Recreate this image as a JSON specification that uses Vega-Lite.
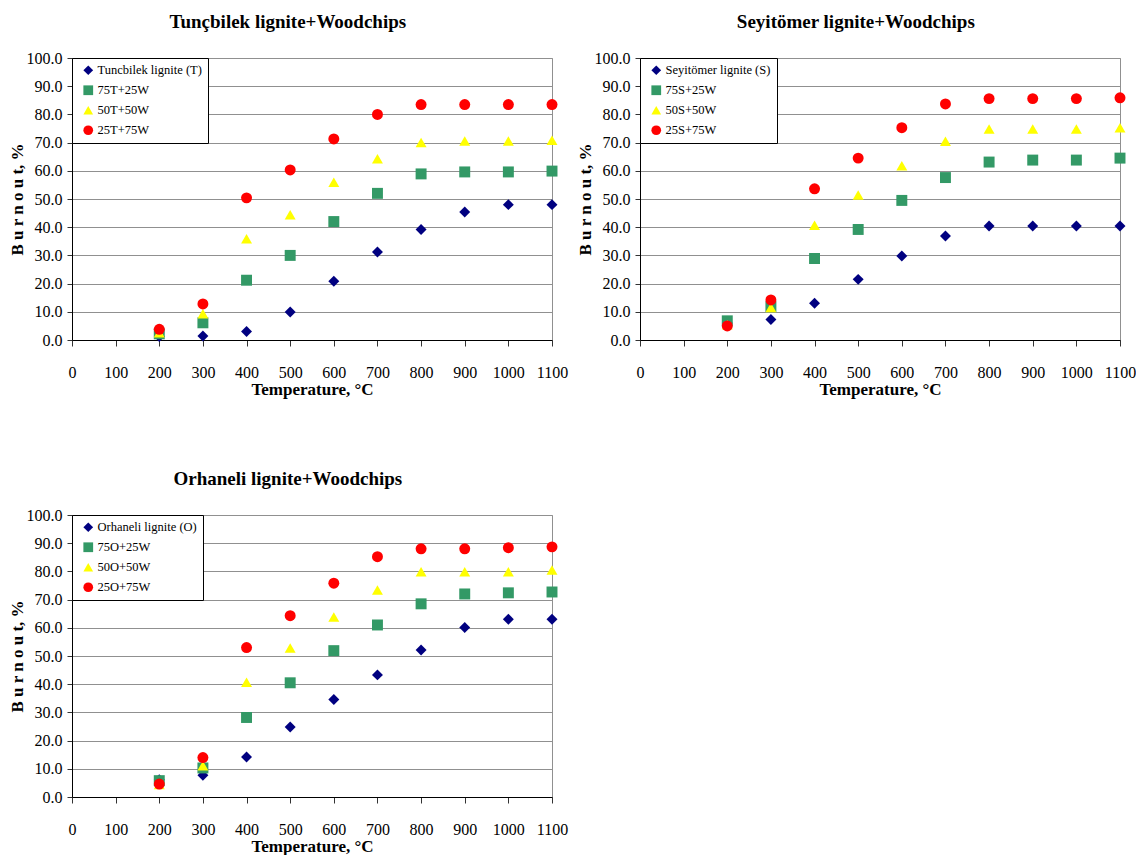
{
  "$schema": "https://vega.github.io/schema/vega-lite/v6.json",
  "background": "white",
  "padding": {"left": 7, "top": 12, "right": 0, "bottom": 0},
  "data": {"values": [
    {"p":"T","s":"Tuncbilek lignite (T)","t":200,"b":1.2},
    {"p":"T","s":"Tuncbilek lignite (T)","t":300,"b":1.4},
    {"p":"T","s":"Tuncbilek lignite (T)","t":400,"b":3.0},
    {"p":"T","s":"Tuncbilek lignite (T)","t":500,"b":9.9},
    {"p":"T","s":"Tuncbilek lignite (T)","t":600,"b":20.8},
    {"p":"T","s":"Tuncbilek lignite (T)","t":700,"b":31.2},
    {"p":"T","s":"Tuncbilek lignite (T)","t":800,"b":39.2},
    {"p":"T","s":"Tuncbilek lignite (T)","t":900,"b":45.4},
    {"p":"T","s":"Tuncbilek lignite (T)","t":1000,"b":48.0},
    {"p":"T","s":"Tuncbilek lignite (T)","t":1100,"b":48.0},
    {"p":"T","s":"75T+25W","t":200,"b":2.2},
    {"p":"T","s":"75T+25W","t":300,"b":6.1},
    {"p":"T","s":"75T+25W","t":400,"b":21.2},
    {"p":"T","s":"75T+25W","t":500,"b":30.0},
    {"p":"T","s":"75T+25W","t":600,"b":42.0},
    {"p":"T","s":"75T+25W","t":700,"b":52.0},
    {"p":"T","s":"75T+25W","t":800,"b":58.9},
    {"p":"T","s":"75T+25W","t":900,"b":59.6},
    {"p":"T","s":"75T+25W","t":1000,"b":59.6},
    {"p":"T","s":"75T+25W","t":1100,"b":59.9},
    {"p":"T","s":"50T+50W","t":200,"b":2.6},
    {"p":"T","s":"50T+50W","t":300,"b":9.3},
    {"p":"T","s":"50T+50W","t":400,"b":35.9},
    {"p":"T","s":"50T+50W","t":500,"b":44.4},
    {"p":"T","s":"50T+50W","t":600,"b":55.9},
    {"p":"T","s":"50T+50W","t":700,"b":64.3},
    {"p":"T","s":"50T+50W","t":800,"b":70.0},
    {"p":"T","s":"50T+50W","t":900,"b":70.6},
    {"p":"T","s":"50T+50W","t":1000,"b":70.6},
    {"p":"T","s":"50T+50W","t":1100,"b":70.8},
    {"p":"T","s":"25T+75W","t":200,"b":3.8},
    {"p":"T","s":"25T+75W","t":300,"b":12.8},
    {"p":"T","s":"25T+75W","t":400,"b":50.4},
    {"p":"T","s":"25T+75W","t":500,"b":60.3},
    {"p":"T","s":"25T+75W","t":600,"b":71.3},
    {"p":"T","s":"25T+75W","t":700,"b":80.0},
    {"p":"T","s":"25T+75W","t":800,"b":83.5},
    {"p":"T","s":"25T+75W","t":900,"b":83.5},
    {"p":"T","s":"25T+75W","t":1000,"b":83.5},
    {"p":"T","s":"25T+75W","t":1100,"b":83.5},

    {"p":"S","s":"Seyitömer lignite (S)","t":200,"b":6.0},
    {"p":"S","s":"Seyitömer lignite (S)","t":300,"b":7.3},
    {"p":"S","s":"Seyitömer lignite (S)","t":400,"b":13.0},
    {"p":"S","s":"Seyitömer lignite (S)","t":500,"b":21.5},
    {"p":"S","s":"Seyitömer lignite (S)","t":600,"b":29.8},
    {"p":"S","s":"Seyitömer lignite (S)","t":700,"b":36.9},
    {"p":"S","s":"Seyitömer lignite (S)","t":800,"b":40.4},
    {"p":"S","s":"Seyitömer lignite (S)","t":900,"b":40.4},
    {"p":"S","s":"Seyitömer lignite (S)","t":1000,"b":40.4},
    {"p":"S","s":"Seyitömer lignite (S)","t":1100,"b":40.4},
    {"p":"S","s":"75S+25W","t":200,"b":6.8},
    {"p":"S","s":"75S+25W","t":300,"b":11.8},
    {"p":"S","s":"75S+25W","t":400,"b":28.9},
    {"p":"S","s":"75S+25W","t":500,"b":39.2},
    {"p":"S","s":"75S+25W","t":600,"b":49.5},
    {"p":"S","s":"75S+25W","t":700,"b":57.6},
    {"p":"S","s":"75S+25W","t":800,"b":63.1},
    {"p":"S","s":"75S+25W","t":900,"b":63.8},
    {"p":"S","s":"75S+25W","t":1000,"b":63.8},
    {"p":"S","s":"75S+25W","t":1100,"b":64.5},
    {"p":"S","s":"50S+50W","t":200,"b":5.4},
    {"p":"S","s":"50S+50W","t":300,"b":11.5},
    {"p":"S","s":"50S+50W","t":400,"b":40.7},
    {"p":"S","s":"50S+50W","t":500,"b":51.4},
    {"p":"S","s":"50S+50W","t":600,"b":61.8},
    {"p":"S","s":"50S+50W","t":700,"b":70.5},
    {"p":"S","s":"50S+50W","t":800,"b":74.8},
    {"p":"S","s":"50S+50W","t":900,"b":74.8},
    {"p":"S","s":"50S+50W","t":1000,"b":74.8},
    {"p":"S","s":"50S+50W","t":1100,"b":75.3},
    {"p":"S","s":"25S+75W","t":200,"b":5.0},
    {"p":"S","s":"25S+75W","t":300,"b":14.2},
    {"p":"S","s":"25S+75W","t":400,"b":53.6},
    {"p":"S","s":"25S+75W","t":500,"b":64.5},
    {"p":"S","s":"25S+75W","t":600,"b":75.3},
    {"p":"S","s":"25S+75W","t":700,"b":83.7},
    {"p":"S","s":"25S+75W","t":800,"b":85.6},
    {"p":"S","s":"25S+75W","t":900,"b":85.6},
    {"p":"S","s":"25S+75W","t":1000,"b":85.6},
    {"p":"S","s":"25S+75W","t":1100,"b":85.9},

    {"p":"O","s":"Orhaneli lignite (O)","t":200,"b":6.1},
    {"p":"O","s":"Orhaneli lignite (O)","t":300,"b":7.7},
    {"p":"O","s":"Orhaneli lignite (O)","t":400,"b":14.2},
    {"p":"O","s":"Orhaneli lignite (O)","t":500,"b":24.8},
    {"p":"O","s":"Orhaneli lignite (O)","t":600,"b":34.6},
    {"p":"O","s":"Orhaneli lignite (O)","t":700,"b":43.3},
    {"p":"O","s":"Orhaneli lignite (O)","t":800,"b":52.1},
    {"p":"O","s":"Orhaneli lignite (O)","t":900,"b":60.1},
    {"p":"O","s":"Orhaneli lignite (O)","t":1000,"b":63.0},
    {"p":"O","s":"Orhaneli lignite (O)","t":1100,"b":63.0},
    {"p":"O","s":"75O+25W","t":200,"b":5.8},
    {"p":"O","s":"75O+25W","t":300,"b":10.3},
    {"p":"O","s":"75O+25W","t":400,"b":28.2},
    {"p":"O","s":"75O+25W","t":500,"b":40.5},
    {"p":"O","s":"75O+25W","t":600,"b":51.9},
    {"p":"O","s":"75O+25W","t":700,"b":61.0},
    {"p":"O","s":"75O+25W","t":800,"b":68.5},
    {"p":"O","s":"75O+25W","t":900,"b":72.0},
    {"p":"O","s":"75O+25W","t":1000,"b":72.4},
    {"p":"O","s":"75O+25W","t":1100,"b":72.7},
    {"p":"O","s":"50O+50W","t":200,"b":4.4},
    {"p":"O","s":"50O+50W","t":300,"b":11.1},
    {"p":"O","s":"50O+50W","t":400,"b":40.7},
    {"p":"O","s":"50O+50W","t":500,"b":52.8},
    {"p":"O","s":"50O+50W","t":600,"b":63.8},
    {"p":"O","s":"50O+50W","t":700,"b":73.4},
    {"p":"O","s":"50O+50W","t":800,"b":79.9},
    {"p":"O","s":"50O+50W","t":900,"b":79.9},
    {"p":"O","s":"50O+50W","t":1000,"b":79.9},
    {"p":"O","s":"50O+50W","t":1100,"b":80.5},
    {"p":"O","s":"25O+75W","t":200,"b":4.6},
    {"p":"O","s":"25O+75W","t":300,"b":14.0},
    {"p":"O","s":"25O+75W","t":400,"b":53.0},
    {"p":"O","s":"25O+75W","t":500,"b":64.3},
    {"p":"O","s":"25O+75W","t":600,"b":75.8},
    {"p":"O","s":"25O+75W","t":700,"b":85.2},
    {"p":"O","s":"25O+75W","t":800,"b":88.0},
    {"p":"O","s":"25O+75W","t":900,"b":88.0},
    {"p":"O","s":"25O+75W","t":1000,"b":88.4},
    {"p":"O","s":"25O+75W","t":1100,"b":88.7}
  ]},
  "columns": 2,
  "spacing": {"row": 71, "column": 6},
  "resolve": {
    "scale": {"color": "independent", "shape": "independent", "x": "independent", "y": "independent"},
    "legend": {"color": "independent", "shape": "independent"}
  },
  "concat": [
    {
      "width": 480, "height": 282,
      "title": "Tunçbilek lignite+Woodchips",
      "transform": [{"filter": "datum.p === 'T'"}],
      "mark": {"type": "point", "filled": true, "size": 120, "opacity": 1},
      "encoding": {
        "x": {"field": "t", "type": "quantitative", "scale": {"domain": [0, 1100], "nice": false}, "axis": {"title": "Temperature, °C", "values": [0,100,200,300,400,500,600,700,800,900,1000,1100], "format": "d"}},
        "y": {"field": "b", "type": "quantitative", "scale": {"domain": [0, 100], "nice": false}, "axis": {"title": "B u r n o u t, %", "values": [0,10,20,30,40,50,60,70,80,90,100], "format": ".1f"}},
        "shape": {"field": "s", "type": "nominal", "scale": {"domain": ["Tuncbilek lignite (T)","75T+25W","50T+50W","25T+75W"], "range": ["diamond","square","triangle-up","circle"]}, "legend": {"title": null}},
        "color": {"field": "s", "type": "nominal", "scale": {"domain": ["Tuncbilek lignite (T)","75T+25W","50T+50W","25T+75W"], "range": ["#000080","#339966","#FFFF00","#FF0000"]}, "legend": {"title": null}}
      }
    },
    {
      "width": 480, "height": 282,
      "title": "Seyitömer lignite+Woodchips",
      "transform": [{"filter": "datum.p === 'S'"}],
      "mark": {"type": "point", "filled": true, "size": 120, "opacity": 1},
      "encoding": {
        "x": {"field": "t", "type": "quantitative", "scale": {"domain": [0, 1100], "nice": false}, "axis": {"title": "Temperature, °C", "values": [0,100,200,300,400,500,600,700,800,900,1000,1100], "format": "d"}},
        "y": {"field": "b", "type": "quantitative", "scale": {"domain": [0, 100], "nice": false}, "axis": {"title": "B u r n o u t, %", "values": [0,10,20,30,40,50,60,70,80,90,100], "format": ".1f"}},
        "shape": {"field": "s", "type": "nominal", "scale": {"domain": ["Seyitömer lignite (S)","75S+25W","50S+50W","25S+75W"], "range": ["diamond","square","triangle-up","circle"]}, "legend": {"title": null}},
        "color": {"field": "s", "type": "nominal", "scale": {"domain": ["Seyitömer lignite (S)","75S+25W","50S+50W","25S+75W"], "range": ["#000080","#339966","#FFFF00","#FF0000"]}, "legend": {"title": null}}
      }
    },
    {
      "width": 480, "height": 282,
      "title": "Orhaneli lignite+Woodchips",
      "transform": [{"filter": "datum.p === 'O'"}],
      "mark": {"type": "point", "filled": true, "size": 120, "opacity": 1},
      "encoding": {
        "x": {"field": "t", "type": "quantitative", "scale": {"domain": [0, 1100], "nice": false}, "axis": {"title": "Temperature, °C", "values": [0,100,200,300,400,500,600,700,800,900,1000,1100], "format": "d"}},
        "y": {"field": "b", "type": "quantitative", "scale": {"domain": [0, 100], "nice": false}, "axis": {"title": "B u r n o u t, %", "values": [0,10,20,30,40,50,60,70,80,90,100], "format": ".1f"}},
        "shape": {"field": "s", "type": "nominal", "scale": {"domain": ["Orhaneli lignite (O)","75O+25W","50O+50W","25O+75W"], "range": ["diamond","square","triangle-up","circle"]}, "legend": {"title": null}},
        "color": {"field": "s", "type": "nominal", "scale": {"domain": ["Orhaneli lignite (O)","75O+25W","50O+50W","25O+75W"], "range": ["#000080","#339966","#FFFF00","#FF0000"]}, "legend": {"title": null}}
      }
    }
  ],
  "config": {
    "font": "Liberation Serif",
    "view": {"stroke": "#909090", "strokeWidth": 1},
    "title": {"font": "Liberation Serif", "fontSize": 19, "fontWeight": "bold", "color": "black", "frame": "bounds", "anchor": "middle", "offset": 18},
    "axis": {
      "labelFont": "Liberation Serif", "labelFontSize": 16, "labelColor": "black",
      "titleFont": "Liberation Serif", "titleFontSize": 17, "titleFontWeight": "bold", "titleColor": "black",
      "domainColor": "black", "domainWidth": 1, "tickColor": "#333", "tickWidth": 1,
      "gridColor": "#909090", "gridOpacity": 1, "gridWidth": 1
    },
    "axisX": {"grid": false, "tickSize": 6, "labelPadding": 18, "titlePadding": 1, "labelFlush": false},
    "axisY": {"grid": true, "tickSize": 5, "labelPadding": 5, "titlePadding": 0},
    "legend": {
      "orient": "top-left", "offset": 0, "strokeColor": "black", "fillColor": "white",
      "padding": 6, "symbolOffset": 4, "labelOffset": 3, "rowPadding": 7,
      "labelFont": "Liberation Serif", "labelFontSize": 12.5, "labelColor": "black",
      "symbolSize": 95, "symbolStrokeWidth": 0, "symbolOpacity": 1
    }
  }
}
